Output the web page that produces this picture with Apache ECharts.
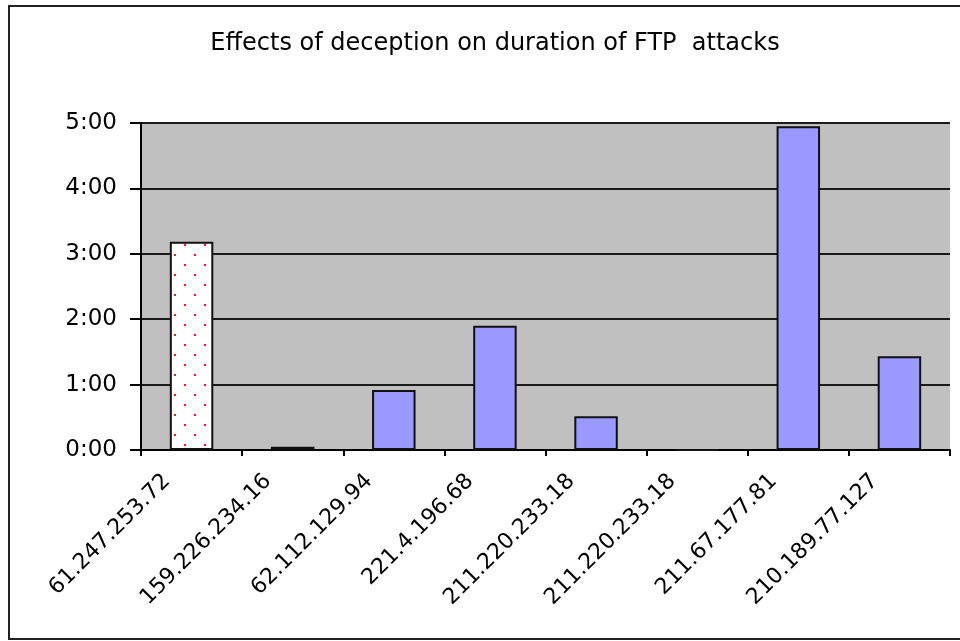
<!DOCTYPE html>
<html>
<head>
<meta charset="utf-8">
<script src="https://cdn.jsdelivr.net/npm/echarts@6/dist/echarts.min.js"></script>
<style>
html,body{margin:0;padding:0;background:#fff;}
#chart{width:960px;height:641px;}
</style>
</head>
<body>
<div id="chart"></div>
<script>
// Data (durations in seconds)
var titleText = 'Effects of deception on duration of FTP  attacks';
var categories = ['61.247.253.72','159.226.234.16','62.112.129.94','221.4.196.68','211.220.233.18','211.220.233.18','211.67.177.81','210.189.77.127'];
var durations = [191, 3, 55, 114, 31, 0, 297, 86];
var highlightIndex = 0; // first bar drawn with dotted pattern

// dotted pattern for the highlighted bar
var pc = document.createElement('canvas');
pc.width = 20; pc.height = 20;
var pctx = pc.getContext('2d');
pctx.fillStyle = '#ffffff';
pctx.fillRect(0, 0, 20, 20);
pctx.fillStyle = '#ff1a1a';
pctx.fillRect(4, 4, 2, 2);
pctx.fillRect(14, 14, 2, 2);

var seriesData = durations.map(function (v, i) {
  if (i === highlightIndex) {
    return { value: v, itemStyle: { color: { image: pc, repeat: 'repeat' } } };
  }
  return v;
});

function fmt(v) {
  var m = Math.floor(v / 60), s = Math.round(v % 60);
  return m + ':' + (s < 10 ? '0' : '') + s;
}

var FONT = 'DejaVu Sans, sans-serif';
var chart = echarts.init(document.getElementById('chart'), null, { renderer: 'canvas' });
chart.setOption({
  backgroundColor: '#ffffff',
  animation: false,
  title: {
    text: titleText,
    left: 490,
    textAlign: 'center',
    top: 27,
    textStyle: { fontFamily: FONT, fontSize: 24, fontWeight: 'normal', color: '#000' }
  },
  graphic: [{
    type: 'rect',
    shape: { x: 9, y: 6, width: 980, height: 633 },
    style: { fill: 'none', stroke: '#222', lineWidth: 2 },
    silent: true,
    z: -1
  }],
  grid: { left: 141, right: 10, top: 123, bottom: 191, show: true, backgroundColor: '#c0c0c0', borderWidth: 0 },
  xAxis: {
    type: 'category',
    data: categories,
    axisLine: { show: true, lineStyle: { color: '#000', width: 2 } },
    axisTick: { show: true, length: 6, lineStyle: { color: '#000', width: 2 } },
    axisLabel: {
      rotate: 45,
      interval: 0,
      margin: 3,
      padding: [0, 35, 0, 0],
      fontFamily: FONT,
      fontSize: 22,
      color: '#000'
    }
  },
  yAxis: {
    type: 'value',
    min: 0,
    max: 300,
    interval: 60,
    axisLine: { show: true, lineStyle: { color: '#000', width: 2 } },
    axisTick: { show: true, inside: false, length: 11, lineStyle: { color: '#000', width: 2 } },
    splitLine: { show: true, lineStyle: { color: '#1a1a1a', width: 2 } },
    axisLabel: {
      margin: 24,
      formatter: fmt,
      fontFamily: FONT,
      fontSize: 23,
      color: '#000'
    }
  },
  series: [{
    type: 'bar',
    data: seriesData,
    barWidth: '43%',
    itemStyle: { color: '#9999ff', borderColor: '#111', borderWidth: 2 }
  }]
});
</script>
</body>
</html>
